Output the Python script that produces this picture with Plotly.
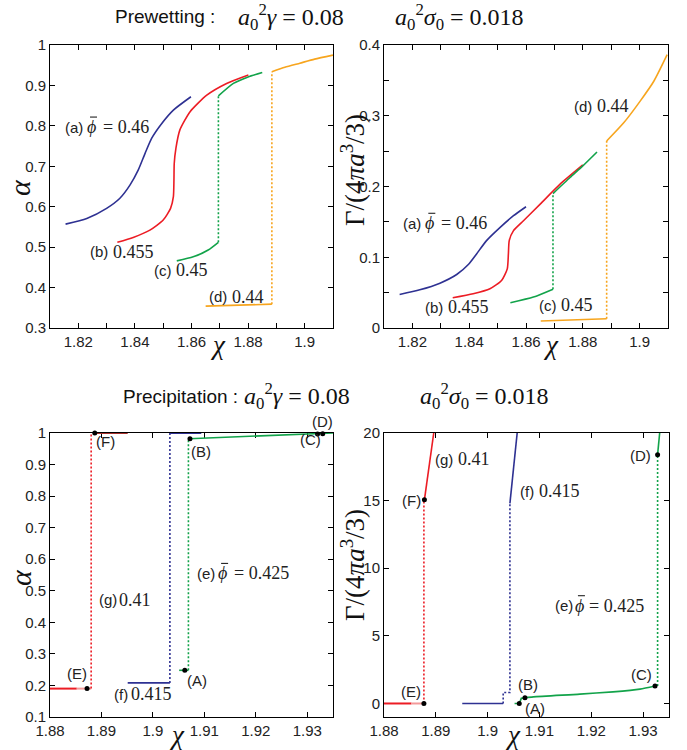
import plotly.graph_objects as go

W, H = 687, 750

BLUE = "#2e3192"
RED = "#ec1c24"
LIGHT_RED = "#f39a9a"
DARK_RED = "#a8322e"
GREEN = "#12a34a"
ORANGE = "#f7a51e"

SANS = "Liberation Sans"
SERIF = "Liberation Serif"

# ---------------- Prewetting: alpha(chi) ----------------
pw_alpha_a_chi = [1.8155, 1.823, 1.830, 1.8347, 1.8383, 1.8412, 1.8436, 1.8459, 1.8495, 1.8536, 1.8598]
pw_alpha_a = [0.557, 0.571, 0.596, 0.621, 0.654, 0.691, 0.732, 0.769, 0.806, 0.839, 0.872]

pw_alpha_b_chi = [1.8338, 1.8394, 1.8453, 1.8500, 1.8526, 1.8536, 1.8538, 1.8539, 1.8545, 1.8559,
                  1.8595, 1.8654, 1.8724, 1.8801]
pw_alpha_b = [0.512, 0.524, 0.542, 0.567, 0.596, 0.625, 0.666, 0.707, 0.745, 0.790,
              0.835, 0.876, 0.905, 0.926]

pw_alpha_c_lo_chi = [1.8548, 1.8606, 1.8659, 1.8695]
pw_alpha_c_lo = [0.466, 0.476, 0.493, 0.512]
pw_alpha_c_hi_chi = [1.8695, 1.8748, 1.8800, 1.8850]
pw_alpha_c_hi = [0.874, 0.905, 0.921, 0.932]

pw_alpha_d_lo_chi = [1.865, 1.8884]
pw_alpha_d_lo = [0.354, 0.359]
pw_alpha_d_hi_chi = [1.8884, 1.893, 1.8983, 1.9035, 1.91]
pw_alpha_d_hi = [0.934, 0.945, 0.955, 0.965, 0.975]

# ---------------- Prewetting: Gamma(chi) ----------------
pw_gam_a_chi = [1.8155, 1.8226, 1.8297, 1.8356, 1.8397, 1.8426, 1.8461, 1.8509, 1.8556, 1.86]
pw_gam_a = [0.0474, 0.054, 0.0634, 0.0756, 0.0897, 0.1047, 0.1235, 0.1423, 0.1587, 0.1714]

pw_gam_b_chi = [1.8342, 1.8414, 1.8473, 1.8514, 1.8534, 1.8538, 1.8541, 1.8556, 1.8591, 1.865, 1.872, 1.88]
pw_gam_b = [0.0427, 0.0484, 0.0554, 0.0671, 0.0836, 0.1047, 0.1235, 0.1376, 0.1516, 0.1751, 0.2033, 0.2305]

pw_gam_c_lo_chi = [1.8545, 1.8626, 1.8695]
pw_gam_c_lo = [0.0357, 0.0437, 0.0549]
pw_gam_c_hi_chi = [1.8695, 1.8755, 1.88, 1.885]
pw_gam_c_hi = [0.190, 0.2127, 0.2291, 0.2488]

pw_gam_d_lo_chi = [1.8652, 1.8884]
pw_gam_d_lo = [0.0099, 0.0131]
pw_gam_d_hi_chi = [1.8884, 1.8944, 1.9002, 1.905, 1.9097]
pw_gam_d_hi = [0.2643, 0.290, 0.3207, 0.3488, 0.3864]

# ---------------- Precipitation: alpha(chi) ----------------
pr_alpha_g_lo_chi = [1.88, 1.8852]
pr_alpha_g_meta_chi = [1.8852, 1.888]
pr_alpha_g_lo = 0.19
pr_alpha_g_jump_chi = 1.888
pr_alpha_g_hi_chi = [1.8886, 1.8951]
pr_alpha_hi = 1.0

pr_alpha_f_lo_chi = [1.8951, 1.9033]
pr_alpha_f_lo = 0.208
pr_alpha_f_jump_chi = 1.9033
pr_alpha_f_hi_chi = [1.9033, 1.9094]

pr_alpha_e_lo_chi = [1.9051, 1.9069]
pr_alpha_e_lo = 0.248
pr_alpha_e_jump_chi = 1.9069
pr_alpha_e_hi_chi = [1.907, 1.932, 1.933, 1.935]
pr_alpha_e_hi = [0.982, 0.997, 0.998, 1.0]

# labelled states (A)-(F) in the alpha panel
pr_alpha_pts_chi = [1.9062, 1.9072, 1.932, 1.933, 1.8872, 1.8887]
pr_alpha_pts = [0.248, 0.982, 0.997, 0.998, 0.19, 1.0]

# ---------------- Precipitation: Gamma(chi) ----------------
pr_gam_g_lo_chi = [1.88, 1.8853]
pr_gam_g_meta_chi = [1.8853, 1.8877]
pr_gam_g_jump_chi = 1.8877
pr_gam_g_hi_chi = [1.8878, 1.8896]
pr_gam_g_hi = [15.06, 20.0]

pr_gam_f_lo_chi = [1.8951, 1.903]
pr_gam_f_step_chi = [1.903, 1.903, 1.9043, 1.9043]
pr_gam_f_step = [0.0, 0.81, 0.81, 14.8]
pr_gam_f_hi_chi = [1.9043, 1.9057]
pr_gam_f_hi = [14.8, 20.0]

pr_gam_e_lo_chi = [1.9052, 1.9061, 1.9065, 1.9072]
pr_gam_e_lo = [0.0, 0.0, 0.38, 0.42]
pr_gam_e_mid_chi = [1.9072, 1.9088, 1.9178, 1.9242, 1.9294, 1.9323]
pr_gam_e_mid = [0.42, 0.49, 0.69, 0.86, 1.06, 1.29]
pr_gam_e_jump_chi = 1.9328
pr_gam_e_hi_chi = [1.9328, 1.9332]
pr_gam_e_hi = [18.4, 20.0]

pr_gam_pts_chi = [1.9061, 1.9072, 1.9323, 1.9328, 1.8877, 1.8878]
pr_gam_pts = [0.0, 0.42, 1.29, 18.4, 0.0, 15.06]

# ---------------- axis ticks ----------------
pw_chi_ticks = [1.82, 1.84, 1.86, 1.88, 1.90]
pw_chi_ticktext = ["1.82", "1.84", "1.86", "1.88", "1.9"]
pw_chi_minor = [1.81, 1.83, 1.85, 1.87, 1.89, 1.91]
pw_alpha_ticks = [0.3, 0.4, 0.5, 0.6, 0.7, 0.8, 0.9, 1.0]
pw_alpha_ticktext = ["0.3", "0.4", "0.5", "0.6", "0.7", "0.8", "0.9", "1"]
pw_gam_ticks = [0, 0.1, 0.2, 0.3, 0.4]
pw_gam_ticktext = ["0", "0.1", "0.2", "0.3", "0.4"]
pw_gam_minor = [0.05, 0.15, 0.25, 0.35]
pr_chi_ticks = [1.88, 1.89, 1.90, 1.91, 1.92, 1.93]
pr_chi_ticktext = ["1.88", "1.89", "1.9", "1.91", "1.92", "1.93"]
pr_alpha_ticks = [0.1, 0.2, 0.3, 0.4, 0.5, 0.6, 0.7, 0.8, 0.9, 1.0]
pr_alpha_ticktext = ["0.1", "0.2", "0.3", "0.4", "0.5", "0.6", "0.7", "0.8", "0.9", "1"]
pr_gam_ticks = [0, 5, 10, 15, 20]
pr_gam_ticktext = ["0", "5", "10", "15", "20"]

fig = go.Figure()


def line(xs, ys, color, ax, dash=None, smooth=False, width=1.6):
    fig.add_trace(go.Scatter(
        x=xs, y=ys, mode="lines", xaxis="x" + ax, yaxis="y" + ax,
        line=dict(color=color, width=width, dash=dash,
                  shape="spline" if smooth else "linear",
                  smoothing=0.6 if smooth else None),
        showlegend=False, hoverinfo="skip"))


def dots(xs, ys, ax):
    fig.add_trace(go.Scatter(
        x=xs, y=ys, mode="markers", xaxis="x" + ax, yaxis="y" + ax,
        marker=dict(color="black", size=5), cliponaxis=False,
        showlegend=False, hoverinfo="skip"))


DOT = "2px,2px"

# prewetting alpha (axes 1)
line(pw_alpha_a_chi, pw_alpha_a, BLUE, "", smooth=True)
line(pw_alpha_b_chi, pw_alpha_b, RED, "", smooth=True)
line(pw_alpha_c_lo_chi, pw_alpha_c_lo, GREEN, "", smooth=True)
line([pw_alpha_c_lo_chi[-1], pw_alpha_c_hi_chi[0]], [pw_alpha_c_lo[-1], pw_alpha_c_hi[0]], GREEN, "", dash=DOT)
line(pw_alpha_c_hi_chi, pw_alpha_c_hi, GREEN, "", smooth=True)
line(pw_alpha_d_lo_chi, pw_alpha_d_lo, ORANGE, "")
line([pw_alpha_d_lo_chi[-1], pw_alpha_d_hi_chi[0]], [pw_alpha_d_lo[-1], pw_alpha_d_hi[0]], ORANGE, "", dash=DOT)
line(pw_alpha_d_hi_chi, pw_alpha_d_hi, ORANGE, "", smooth=True)

# prewetting Gamma (axes 2)
line(pw_gam_a_chi, pw_gam_a, BLUE, "2", smooth=True)
line(pw_gam_b_chi, pw_gam_b, RED, "2", smooth=True)
line(pw_gam_c_lo_chi, pw_gam_c_lo, GREEN, "2", smooth=True)
line([pw_gam_c_lo_chi[-1], pw_gam_c_hi_chi[0]], [pw_gam_c_lo[-1], pw_gam_c_hi[0]], GREEN, "2", dash=DOT)
line(pw_gam_c_hi_chi, pw_gam_c_hi, GREEN, "2", smooth=True)
line(pw_gam_d_lo_chi, pw_gam_d_lo, ORANGE, "2")
line([pw_gam_d_lo_chi[-1], pw_gam_d_hi_chi[0]], [pw_gam_d_lo[-1], pw_gam_d_hi[0]], ORANGE, "2", dash=DOT)
line(pw_gam_d_hi_chi, pw_gam_d_hi, ORANGE, "2", smooth=True)

# precipitation alpha (axes 3)
line(pr_alpha_g_lo_chi, [pr_alpha_g_lo] * 2, RED, "3", width=2)
line(pr_alpha_g_meta_chi, [pr_alpha_g_lo] * 2, LIGHT_RED, "3", width=2)
line([pr_alpha_g_jump_chi] * 2, [pr_alpha_g_lo, pr_alpha_hi], RED, "3", dash=DOT)
line(pr_alpha_g_hi_chi, [pr_alpha_hi] * 2, DARK_RED, "3", width=2)
line(pr_alpha_f_lo_chi, [pr_alpha_f_lo] * 2, BLUE, "3")
line([pr_alpha_f_jump_chi] * 2, [pr_alpha_f_lo, pr_alpha_hi], BLUE, "3", dash=DOT)
line(pr_alpha_f_hi_chi, [pr_alpha_hi] * 2, BLUE, "3", width=2)
line(pr_alpha_e_lo_chi, [pr_alpha_e_lo] * 2, GREEN, "3")
line([pr_alpha_e_jump_chi] * 2, [pr_alpha_e_lo, pr_alpha_e_hi[0]], GREEN, "3", dash=DOT)
line(pr_alpha_e_hi_chi, pr_alpha_e_hi, GREEN, "3")
dots(pr_alpha_pts_chi, pr_alpha_pts, "3")

# precipitation Gamma (axes 4)
line(pr_gam_g_lo_chi, [0, 0], RED, "4", width=2)
line(pr_gam_g_meta_chi, [0, 0], LIGHT_RED, "4", width=2)
line([pr_gam_g_jump_chi] * 2, [0, pr_gam_g_hi[0]], RED, "4", dash=DOT)
line(pr_gam_g_hi_chi, pr_gam_g_hi, RED, "4")
line(pr_gam_f_lo_chi, [0, 0], BLUE, "4")
line(pr_gam_f_step_chi, pr_gam_f_step, BLUE, "4", dash=DOT)
line(pr_gam_f_hi_chi, pr_gam_f_hi, BLUE, "4")
line(pr_gam_e_lo_chi, pr_gam_e_lo, GREEN, "4")
line(pr_gam_e_mid_chi, pr_gam_e_mid, GREEN, "4", smooth=True)
line([pr_gam_e_jump_chi] * 2, [pr_gam_e_mid[-1], pr_gam_e_hi[0]], GREEN, "4", dash=DOT)
line(pr_gam_e_hi_chi, pr_gam_e_hi, GREEN, "4")
dots(pr_gam_pts_chi, pr_gam_pts, "4")


def px(v):
    return v / W


def py(v):
    return 1 - v / H


def axis(domain, rng, tickvals, ticktext, anchor, minor_vals=None):
    ax = dict(domain=domain, range=rng, tickmode="array", tickvals=tickvals, ticktext=ticktext,
              ticks="inside", ticklen=5, tickwidth=1, tickcolor="black",
              showline=True, linecolor="black", linewidth=1, mirror="ticks",
              showgrid=False, zeroline=False, anchor=anchor, automargin=False,
              tickfont=dict(family=SANS, size=15, color="#222"), layer="below traces")
    if minor_vals:
        ax["minor"] = dict(tickmode="array", tickvals=minor_vals, ticks="inside", ticklen=5,
                           tickwidth=1, tickcolor="black", showgrid=False)
    return ax


fig.update_layout(
    width=W, height=H, margin=dict(l=0, r=0, t=0, b=0),
    paper_bgcolor="white", plot_bgcolor="white",
    xaxis=axis([px(50), px(333)], [1.81, 1.91], pw_chi_ticks, pw_chi_ticktext, "y", pw_chi_minor),
    yaxis=axis([py(328), py(45)], [0.3, 1.0], pw_alpha_ticks, pw_alpha_ticktext, "x"),
    xaxis2=axis([px(384), px(668)], [1.81, 1.91], pw_chi_ticks, pw_chi_ticktext, "y2", pw_chi_minor),
    yaxis2=axis([py(328), py(45)], [0, 0.4], pw_gam_ticks, pw_gam_ticktext, "x2", pw_gam_minor),
    xaxis3=axis([px(50), px(333)], [1.88, 1.935], pr_chi_ticks, pr_chi_ticktext, "y3"),
    yaxis3=axis([py(717), py(433)], [0.1, 1.0], pr_alpha_ticks, pr_alpha_ticktext, "x3"),
    xaxis4=axis([px(384), px(669)], [1.88, 1.935], pr_chi_ticks, pr_chi_ticktext, "y4"),
    yaxis4=axis([py(717), py(433)], [-1, 20], pr_gam_ticks, pr_gam_ticktext, "x4"),
)

# pixel width of "(x)" in the 15px sans font, per letter
TAG_W = {"a": 18, "b": 18, "c": 17, "d": 18, "e": 18, "f": 14, "g": 18}


def note(xref, yref, x, y, text, family, size, anchor="left", shift=0, yshift=0):
    fig.add_annotation(xref=xref, yref=yref, x=x, y=y, text=text, showarrow=False,
                       xanchor=anchor, yanchor="middle", xshift=shift, yshift=yshift,
                       font=dict(family=family, size=size, color="#222"))


def tag(ax, x, y, letter, value, gap=5, phi=False, eq_gap=15):
    xr, yr = "x" + ax, "y" + ax
    note(xr, yr, x, y, f"({letter})", SANS, 15)
    s = TAG_W[letter] + gap
    if phi:
        # mean volume fraction: phi with an overbar, then "= value"
        note(xr, yr, x, y, "<i>ϕ</i>", SERIF, 18, shift=s)
        fig.add_shape(type="line", xref=xr, yref=yr, xsizemode="pixel", ysizemode="pixel",
                      xanchor=x, yanchor=y, x0=s + 5, x1=s + 12, y0=10, y1=10,
                      line=dict(color="#222", width=1.1))
        note(xr, yr, x, y, "= " + value, SERIF, 18, shift=s + eq_gap)
    else:
        note(xr, yr, x, y, value, SERIF, 18, shift=s)


def point(ax, x, y, letter):
    note("x" + ax, "y" + ax, x, y, f"({letter})", SANS, 15, anchor="center")


# prewetting labels
tag("", 1.8146, 0.797, "a", "0.46", gap=4, phi=True, eq_gap=16)
tag("", 1.8234, 0.489, "b", "0.455")
tag("", 1.8460, 0.443, "c", "0.45")
tag("", 1.8655, 0.377, "d", "0.44")
tag("2", 1.8161, 0.148, "a", "0.46", gap=4, phi=True, eq_gap=16)
tag("2", 1.8238, 0.0296, "b", "0.455")
tag("2", 1.8638, 0.032, "c", "0.45")
tag("2", 1.8761, 0.3137, "d", "0.44")

# precipitation labels
point("3", 1.8907, 0.972, "F")
point("3", 1.9093, 0.942, "B")
point("3", 1.9307, 0.979, "C")
note("paper", "paper", px(322.5), py(421.5), "(D)", SANS, 15, anchor="center")
point("3", 1.8852, 0.238, "E")
point("3", 1.9085, 0.215, "A")
tag("3", 1.8920, 0.172, "f", "0.415", gap=3)
tag("3", 1.8891, 0.471, "g", "0.41", gap=2)
tag("3", 1.9082, 0.555, "e", "0.425", gap=3, phi=True, eq_gap=16)

tag("4", 1.8894, 18.07, "g", "0.41")
point("4", 1.8853, 15.0, "F")
tag("4", 1.9058, 15.7, "f", "0.415")
point("4", 1.9295, 18.3, "D")
tag("4", 1.9126, 7.23, "e", "0.425", gap=2, phi=True, eq_gap=14)
point("4", 1.9297, 2.17, "C")
point("4", 1.9077, 1.43, "B")
point("4", 1.9091, -0.37, "A")
point("4", 1.8852, 0.86, "E")


def paper_text(x, y, text, size, angle=0, family=SERIF, anchor="center"):
    fig.add_annotation(xref="paper", yref="paper", x=px(x), y=py(y), text=text, showarrow=False,
                       xanchor=anchor, yanchor="middle", textangle=angle,
                       font=dict(family=family, size=size, color="#111"))


# axis titles
paper_text(20, 188, "<i>α</i>", 30, -90)
paper_text(218, 345, "<i>χ</i>", 27)
paper_text(353, 170, "Γ/(4<i>πa</i><sup>3</sup>/3)", 27, -90)
paper_text(551, 345, "<i>χ</i>", 27)
paper_text(20, 578, "<i>α</i>", 30, -90)
paper_text(177, 735, "<i>χ</i>", 27)
paper_text(353, 565, "Γ/(4<i>πa</i><sup>3</sup>/3)", 27, -90)
paper_text(513, 735, "<i>χ</i>", 27)

# panel-pair headings
gamma_txt = "<i>a</i><sub>0</sub><sup>2</sup><i>γ</i> = 0.08"
sigma_txt = "<i>a</i><sub>0</sub><sup>2</sup><i>σ</i><sub>0</sub> = 0.018"
paper_text(113, 17, "Prewetting :", 19, family=SANS, anchor="left")
paper_text(236, 17, gamma_txt, 24, anchor="left")
paper_text(393, 17, sigma_txt, 24, anchor="left")
paper_text(121, 396, "Precipitation :", 19, family=SANS, anchor="left")
paper_text(242, 396, gamma_txt, 24, anchor="left")
paper_text(418, 396, sigma_txt, 24, anchor="left")

fig.write_html("out.html")
